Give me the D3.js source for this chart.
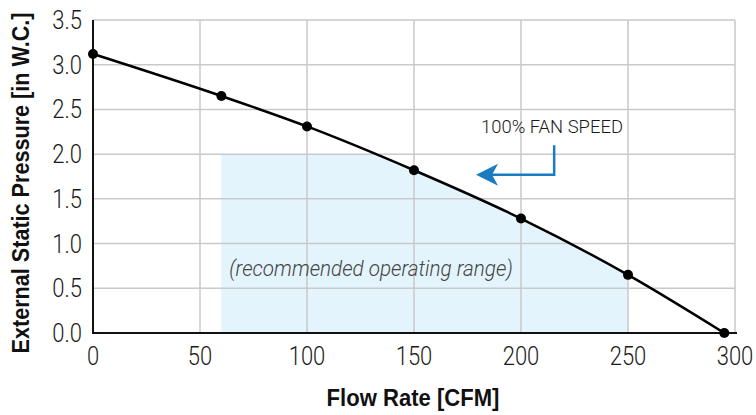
<!DOCTYPE html>
<html>
<head>
<meta charset="utf-8">
<script src="https://cdn.jsdelivr.net/npm/d3@7"></script>
<style>
  body { margin: 0; background: #fff; }
  text { font-family: "Liberation Sans", Arial, sans-serif; }
  .light { font-family: Roboto, "Liberation Sans", sans-serif; font-weight: 300; }
</style>
</head>
<body>
<svg id="chart" width="756" height="415"></svg>
<script>
// fan curve
const flow = [0, 60, 100, 150, 200, 250, 295]
const pressure = [3.12, 2.65, 2.31, 1.82, 1.28, 0.65, 0.0]

const xTicks = [0, 50, 100, 150, 200, 250, 300]
const yTicks = [0.0, 0.5, 1.0, 1.5, 2.0, 2.5, 3.0, 3.5]

// recommended operating range box (flow from..to, max pressure)
const rangeFlow = [60, 250]
const rangeMaxPressure = 2.0

// callout arrow in data units: [flow, pressure]
const arrowPts = [[215.5, 2.10], [215.5, 1.77], [179, 1.77]]

const svg = d3.select("#chart")
const x = d3.scaleLinear().domain([0, 300]).range([93, 735])
const y = d3.scaleLinear().domain([0, 3.5]).range([333, 20])

const points = flow.map((f, i) => [f, pressure[i]])

// fake condensed font
function squeeze(px, py, k) {
    return "translate(" + px + "," + py + ") scale(" + k + ",1)"
}

// shaded range: area under curve, clipped to the box
svg.append("defs").append("clipPath").attr("id", "rangeClip")
    .append("rect")
    .attr("x", x(rangeFlow[0]))
    .attr("y", y(rangeMaxPressure))
    .attr("width", x(rangeFlow[1]) - x(rangeFlow[0]))
    .attr("height", y(0) - y(rangeMaxPressure))

const area = d3.area()
    .x(d => x(d[0]))
    .y0(y(0))
    .y1(d => y(d[1]))
    .curve(d3.curveMonotoneX)

svg.append("path")
    .datum(points)
    .attr("d", area)
    .attr("fill", "#e3f4fc")
    .attr("clip-path", "url(#rangeClip)")

// grid
svg.append("g").selectAll("line")
    .data(xTicks.slice(1))
    .enter().append("line")
    .attr("x1", d => x(d)).attr("x2", d => x(d))
    .attr("y1", y(0)).attr("y2", y(3.5))
    .attr("stroke", "#c9c9c9").attr("stroke-width", 1.5)

svg.append("g").selectAll("line")
    .data(yTicks.slice(1))
    .enter().append("line")
    .attr("x1", x(0)).attr("x2", x(300))
    .attr("y1", d => y(d)).attr("y2", d => y(d))
    .attr("stroke", "#c9c9c9").attr("stroke-width", 1.5)

// axes lines
svg.append("line")
    .attr("x1", x(0)).attr("x2", x(300) + 2)
    .attr("y1", y(0)).attr("y2", y(0))
    .attr("stroke", "#111").attr("stroke-width", 2)
svg.append("line")
    .attr("x1", x(0)).attr("x2", x(0))
    .attr("y1", y(3.5)).attr("y2", y(0) + 1)
    .attr("stroke", "#111").attr("stroke-width", 2)

// tick labels
svg.append("g").selectAll("text")
    .data(xTicks)
    .enter().append("text")
    .attr("class", "light")
    .attr("transform", d => squeeze(x(d), 365, 0.88))
    .attr("text-anchor", "middle")
    .attr("font-size", 25)
    .attr("fill", "#1a1a1a")
    .text(d => d)

svg.append("g").selectAll("text")
    .data(yTicks)
    .enter().append("text")
    .attr("class", "light")
    .attr("transform", d => squeeze(82, y(d) + 9, 0.88))
    .attr("text-anchor", "end")
    .attr("font-size", 25)
    .attr("fill", "#1a1a1a")
    .text(d => d.toFixed(1))

// curve + markers
const line = d3.line()
    .x(d => x(d[0]))
    .y(d => y(d[1]))
    .curve(d3.curveMonotoneX)

svg.append("path")
    .datum(points)
    .attr("d", line)
    .attr("fill", "none")
    .attr("stroke", "#000")
    .attr("stroke-width", 2.5)

svg.append("g").selectAll("circle")
    .data(points)
    .enter().append("circle")
    .attr("cx", d => x(d[0]))
    .attr("cy", d => y(d[1]))
    .attr("r", 5)
    .attr("fill", "#000")

// annotations
svg.append("text")
    .attr("class", "light")
    .attr("transform", squeeze(371, 276, 0.94))
    .attr("text-anchor", "middle")
    .attr("font-size", 22)
    .attr("font-style", "italic")
    .attr("fill", "#444")
    .text("(recommended operating range)")

svg.append("text")
    .attr("class", "light")
    .attr("transform", squeeze(552, 133, 0.97))
    .attr("text-anchor", "middle")
    .attr("font-size", 19)
    .attr("fill", "#1a1a1a")
    .text("100% FAN SPEED")

const arrow = arrowPts.map(p => [x(p[0]), y(p[1])])
svg.append("path")
    .attr("d", d3.line()(arrow.slice(0, 2).concat([[arrow[2][0] + 14, arrow[2][1]]])))
    .attr("fill", "none")
    .attr("stroke", "#1a7bc2")
    .attr("stroke-width", 2.5)

const tip = arrow[2]
svg.append("path")
    .attr("d", `M${tip[0]},${tip[1]} L${tip[0] + 22},${tip[1] - 11} L${tip[0] + 16},${tip[1]} L${tip[0] + 22},${tip[1] + 11} Z`)
    .attr("fill", "#1a7bc2")

// axis titles
svg.append("text")
    .attr("transform", squeeze(413, 406, 0.92))
    .attr("text-anchor", "middle")
    .attr("font-size", 24)
    .attr("font-weight", "bold")
    .attr("fill", "#111")
    .text("Flow Rate [CFM]")

svg.append("text")
    .attr("transform", "translate(29,183) rotate(-90) scale(0.9,1)")
    .attr("text-anchor", "middle")
    .attr("font-size", 24)
    .attr("font-weight", "bold")
    .attr("fill", "#111")
    .text("External Static Pressure [in W.C.]")
</script>
</body>
</html>
